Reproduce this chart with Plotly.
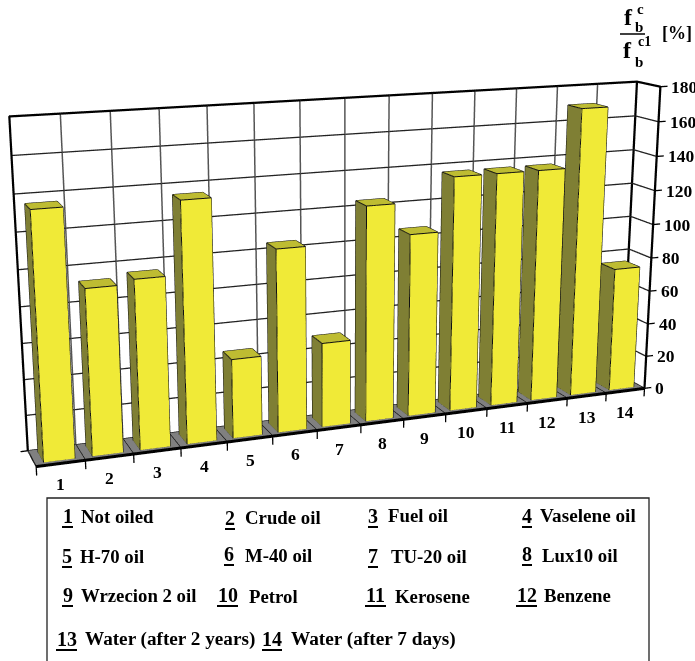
import numpy as np
import plotly.graph_objects as go

categories = list(range(1, 15))
names = ["Not oiled", "Crude oil", "Fuel oil", "Vaselene oil", "H-70 oil", "M-40 oil", "TU-20 oil", "Lux10 oil",
         "Wrzecion 2 oil", "Petrol", "Kerosene", "Benzene", "Water (after 2 years)", "Water (after 7 days)"]
values = [135.5, 92, 94.5, 134.5, 45, 104, 48.5, 123.5, 105.5, 136, 136, 136, 169.5, 74]
z_ticks = [0, 20, 40, 60, 80, 100, 120, 140, 160, 180]

W, H = 695, 661
Z_MAX = 180.0
n = len(categories)

# Oblique view of the unit box (category, depth, value) as a projective matrix.
VIEW = np.array([
    [701.693, -7.575, -19.540, 36.171],
    [-21.940, -3.182, -350.381, 466.612],
    [0.14490, 0.02806, -0.05713, 1.0],
])
# Plotly's scene camera has a fixed 45 degree field of view; this is its focal length in pixels.
FOCAL = (H / 2) / np.tan(np.pi / 8)
CX, CY = W / 2, H / 2
EYE_DIST = 3.0


def to_scene(x, y, z):
    """Map (category position, depth 0..1, value) to scene coordinates for the fixed camera."""
    x, y, z = np.asarray(x, float), np.asarray(y, float), np.asarray(z, float)
    h = np.stack([x / n, y, z / Z_MAX, np.ones_like(x)], axis=-1)
    a, b, w = h @ VIEW[0], h @ VIEW[1], h @ VIEW[2]
    return EYE_DIST * (a - CX * w) / FOCAL, EYE_DIST * (w - 1.0), EYE_DIST * (CY * w - b) / FOCAL


def line_trace(segments, color, width):
    xs, ys, zs = [], [], []
    for seg in segments:
        sx, sy, sz = to_scene(*zip(*seg))
        xs += list(sx) + [None]
        ys += list(sy) + [None]
        zs += list(sz) + [None]
    return go.Scatter3d(x=xs, y=ys, z=zs, mode="lines", line=dict(color=color, width=width),
                        hoverinfo="skip", showlegend=False)


FLAT = dict(ambient=1, diffuse=0, specular=0, fresnel=0)
fig = go.Figure()

# Floor plate
fx, fy, fz = to_scene([0, n, n, 0], [0, 0, 1, 1], [0, 0, 0, 0])
fig.add_trace(go.Mesh3d(x=fx, y=fy, z=fz, i=[0, 0], j=[1, 2], k=[2, 3], color="#808080", flatshading=True,
                        lighting=FLAT, hoverinfo="skip"))

# Gridlines on the back and side walls, and across the floor
inner = z_ticks[1:-1]
fig.add_trace(line_trace([[(i, 1, 0), (i, 1, Z_MAX)] for i in range(1, n)], "#555555", 3))
fig.add_trace(line_trace([[(0, 1, v), (n, 1, v)] for v in inner] + [[(n, 1, v), (n, 0, v)] for v in inner], "#222222", 2.6))
fig.add_trace(line_trace([[(i, 0, 0), (i, 1, 0)] for i in range(n + 1)] + [[(0, 1, 0), (n, 1, 0)]], "#111111", 2.6))

# Frame, front floor edge and tick marks
fig.add_trace(line_trace([[(0, 1, 0), (0, 1, Z_MAX), (n, 1, Z_MAX), (n, 0, Z_MAX), (n, 0, 0)],
                          [(n, 1, 0), (n, 1, Z_MAX)]], "black", 4.5))
fig.add_trace(line_trace([[(0, 0, 0), (n, 0, 0)]], "black", 6))
fig.add_trace(line_trace([[(n, 0, v), (n + .18, 0, v)] for v in z_ticks]
                         + [[(i, 0, 0), (i, 0, -5)] for i in range(n + 1)]
                         + [[(-.15, 1, 0), (0, 1, 0)]], "black", 2.6))

# Bars
FRONT, TOP, SIDE = "#F0EA37", "#BEBC32", "#7F7F34"
BAR_LO, BAR_HI = .18, .82
DEPTH_LO, DEPTH_HI = .18, .82
QUADS = [((0, 1, 5, 4), FRONT), ((4, 5, 6, 7), TOP), ((0, 3, 7, 4), SIDE), ((1, 2, 6, 5), SIDE), ((3, 2, 6, 7), SIDE)]
EDGES = [(0, 1), (1, 2), (2, 3), (3, 0), (4, 5), (5, 6), (6, 7), (7, 4), (0, 4), (1, 5), (2, 6), (3, 7)]
vx, vy, vz, ti, tj, tk, face_colors, bar_edges = [], [], [], [], [], [], [], []
for i, val in enumerate(values):
    x0, x1 = i + BAR_LO, i + BAR_HI
    corners = [(x0, DEPTH_LO, 0), (x1, DEPTH_LO, 0), (x1, DEPTH_HI, 0), (x0, DEPTH_HI, 0),
               (x0, DEPTH_LO, val), (x1, DEPTH_LO, val), (x1, DEPTH_HI, val), (x0, DEPTH_HI, val)]
    sx, sy, sz = to_scene(*zip(*corners))
    base = len(vx)
    vx += list(sx)
    vy += list(sy)
    vz += list(sz)
    for q, col in QUADS:
        ti += [base + q[0], base + q[0]]
        tj += [base + q[1], base + q[2]]
        tk += [base + q[2], base + q[3]]
        face_colors += [col, col]
    bar_edges += [[corners[a], corners[b]] for a, b in EDGES]
fig.add_trace(go.Mesh3d(x=vx, y=vy, z=vz, i=ti, j=tj, k=tk, facecolor=face_colors, flatshading=True,
                        lighting=FLAT, hoverinfo="skip"))
fig.add_trace(line_trace(bar_edges, "#111111", 2))

# Axis labels anchored to the scene
SERIF = "Liberation Serif"
scene_labels = []
for v in z_ticks:
    sx, sy, sz = to_scene(n, 0, v)
    scene_labels.append(dict(x=float(sx), y=float(sy), z=float(sz), text="<b>%d</b>" % v, showarrow=False,
                             xanchor="left", yanchor="middle", xshift=9, font=dict(family=SERIF, size=17.5, color="black")))
for c in categories:
    sx, sy, sz = to_scene(c - .5, 0, 0)
    scene_labels.append(dict(x=float(sx), y=float(sy), z=float(sz), text="<b>%d</b>" % c, showarrow=False,
                             xanchor="center", yanchor="middle", yshift=-21, font=dict(family=SERIF, size=17.5, color="black")))


def px(x):
    return x / W


def py(y):
    return 1 - y / H


notes, shapes = [], []


def label(x, baseline, text, size, anchor="left"):
    notes.append(dict(x=px(x), y=py(baseline + .216 * size), xref="paper", yref="paper", xanchor=anchor, yanchor="bottom",
                      showarrow=False, borderpad=0, text="<b>%s</b>" % text, font=dict(family=SERIF, size=size, color="black")))


def rule(x0, x1, y, width):
    shapes.append(dict(type="line", xref="paper", yref="paper", x0=px(x0), x1=px(x1), y0=py(y), y1=py(y),
                       line=dict(color="black", width=width)))


# Key: underline start, underline end, underline y, name x, name baseline, name size
key_rows = [(62, 73, 527, 80, 524, 18.8), (225, 235, 529, 244, 525, 18.8), (368, 378, 527, 387, 523, 18.8), (522, 532, 527, 539, 523, 19.2),
            (62, 72, 567, 79, 564, 18.8), (224, 234, 565, 244, 563, 18.8), (368, 378, 567, 390, 564, 18.8), (522, 532, 565, 541, 563, 18.8),
            (62, 73, 606, 80, 603, 18.8), (217, 238, 606, 248, 604, 18.8), (365, 386, 606, 394, 604, 18.8), (516, 537, 606, 543, 603, 18.8),
            (56, 77, 650, 84, 647, 19.2), (262, 282, 650, 290, 647, 19.3)]
for c, name, (u0, u1, uy, tx, ty, fs) in zip(categories, names, key_rows):
    label((u0 + u1) / 2, uy - 3, str(c), 20, "center")
    rule(u0, u1, uy, 2)
    label(tx, ty, name, fs)
shapes.append(dict(type="rect", xref="paper", yref="paper", x0=px(47), x1=px(649), y0=py(498), y1=py(675),
                   line=dict(color="#222222", width=1.3)))

# Axis title written as a fraction
label(628, 25.5, "f", 24, "center")
label(640.7, 15, "c", 15, "center")
label(639, 33, "b", 15, "center")
rule(620, 645, 34, 1.5)
label(627, 59, "f", 24, "center")
label(637, 47, "c1", 14)
label(639, 68, "b", 15, "center")
label(677, 40, "[%]", 18, "center")

hidden = dict(visible=False, range=[-2, 2], showspikes=False)
fig.update_layout(
    width=W, height=H, margin=dict(l=0, r=0, t=0, b=0), showlegend=False, paper_bgcolor="white",
    annotations=notes, shapes=shapes,
    scene=dict(domain=dict(x=[0, 1], y=[0, 1]), xaxis=hidden, yaxis=hidden, zaxis=hidden,
               aspectmode="manual", aspectratio=dict(x=4, y=4, z=4), annotations=scene_labels,
               camera=dict(eye=dict(x=0, y=-EYE_DIST, z=0), center=dict(x=0, y=0, z=0), up=dict(x=0, y=0, z=1),
                           projection=dict(type="perspective"))),
)
fig.write_html("out.html", config=dict(displayModeBar=False))
